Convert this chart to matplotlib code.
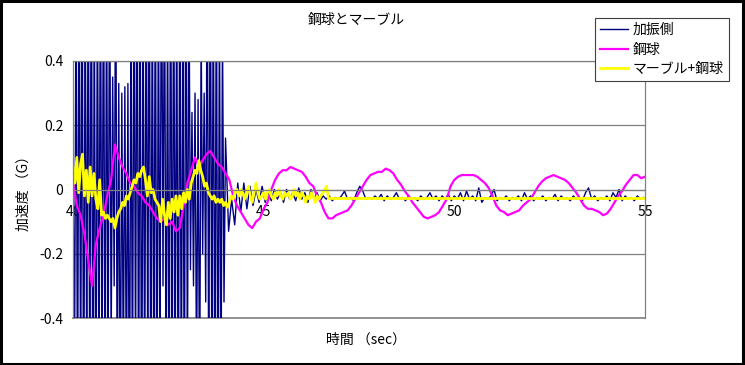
import numpy as np
import matplotlib.pyplot as plt
from matplotlib.patches import Rectangle

plt.rcParams['font.family'] = ['Noto Sans CJK JP', 'DejaVu Sans']

title = "鋼球とマーブル"
series_names = ["加振側", "鋼球", "マーブル+鋼球"]
x_label = "時間 （sec）"
y_label = "加速度 （G）"

x_ticks = [40, 45, 50, 55]
y_ticks = [-0.4, -0.2, 0, 0.2, 0.4]
y_ticklabels = ["-0.4", "-0.2", "0", "0.2", "0.4"]

# 加振側: dense part sampled every 0.04 s from 40 s, quiet part every 0.08 s from 44 s
blue_fast = [0.15, -0.6, 0.7, -0.8, 0.9, -0.7, 0.8, -0.9, 0.7, -0.6,
             0.8, -0.7, 0.9, -0.8, 0.6, -0.9, 0.7, -0.6, 0.8, -0.7,
             0.9, -0.8, 0.7, -0.6, 0.8, -0.5, 0.35, -0.3, 0.8, -0.7,
             0.33, -0.8, 0.3, -0.6, 0.32, -0.7, 0.33, -0.9, 0.6, -0.7,
             0.8, -0.6, 0.9, -0.8, 0.7, -0.9, 0.6, -0.7, 0.8, -0.6,
             0.9, -0.8, 0.7, -0.7, 0.8, -0.9, 0.7, -0.6, 0.9, -0.3,
             0.8, -0.7, 0.6, -0.8, 0.9, -0.7, 0.8, -0.6, 0.7, -0.9,
             0.8, -0.7, 0.6, -0.8, 0.9, -0.6, 0.7, -0.25, 0.24, -0.3,
             0.30, -0.6, 0.28, -0.7, 0.5, -0.2, 0.3, -0.35, 0.8, -0.7,
             0.9, -0.6, 0.7, -0.8, 0.8, -0.9, 0.6, -0.7, 0.5, -0.35]
blue_slow = [0.16, -0.13, -0.03, -0.11, 0.02, -0.07, 0.02, -0.06, 0.01, -0.05,
             0.0, -0.04, 0.01, -0.04, -0.01, -0.035, 0.0, -0.03, -0.01, -0.04,
             0.0, -0.03, -0.01, -0.035, 0.005, -0.03, -0.01, -0.04, 0.0, -0.03,
             -0.01, -0.035, -0.02, -0.03, -0.02, -0.035, -0.025, -0.03, -0.02, -0.005,
             -0.03, -0.025, -0.035, -0.01, 0.01, -0.005, -0.03, -0.025, -0.03, -0.02,
             -0.03, -0.015, -0.035, -0.02, -0.03, -0.025, -0.01, -0.03, -0.025, -0.035,
             -0.02, -0.03, -0.025, -0.035, -0.02, -0.03, -0.025, -0.01, -0.03, -0.02,
             -0.035, -0.02, -0.03, -0.015, -0.035, -0.02, -0.03, -0.01, -0.035, -0.005,
             -0.03, -0.02, -0.035, 0.005, -0.04, -0.025, -0.03, -0.02, 0.0, -0.035,
             -0.025, -0.03, -0.02, -0.035, -0.025, -0.03, -0.02, -0.035, -0.01, -0.03,
             -0.02, -0.035, -0.025, -0.03, -0.02, -0.035, -0.025, -0.03, -0.015, -0.035,
             -0.02, -0.03, -0.025, -0.035, -0.02, -0.03, -0.025, -0.035, -0.01, 0.005,
             -0.03, -0.02, -0.035, -0.025, -0.03, -0.02, -0.035, -0.01, -0.025, 0.0,
             -0.035, -0.02, -0.03, -0.025, -0.035, -0.02, -0.03, -0.025]

# 鋼球: every 0.1 s from 40 s
magenta = [0.02, -0.05, -0.08, -0.14, -0.22, -0.30, -0.17, -0.12, -0.08, -0.02,
           0.03, 0.14, 0.10, 0.07, 0.05, 0.02, 0.01, -0.01, -0.02, -0.04,
           -0.05, -0.07, -0.09, -0.10, -0.09, -0.11, -0.10, -0.13, -0.12, -0.05,
           0.02, 0.06, 0.10, 0.07, 0.09, 0.11, 0.12, 0.10, 0.08, 0.07,
           0.05, 0.03, -0.02, -0.05, -0.07, -0.09, -0.11, -0.12, -0.10, -0.09,
           -0.06, -0.04, 0.00, 0.03, 0.05, 0.06, 0.06, 0.07, 0.065, 0.06,
           0.055, 0.04, 0.02, 0.01, -0.02, -0.04, -0.07, -0.09, -0.09, -0.08,
           -0.075, -0.07, -0.065, -0.05, -0.03, -0.01, 0.01, 0.03, 0.045, 0.05,
           0.055, 0.055, 0.065, 0.06, 0.05, 0.03, 0.015, -0.005, -0.02, -0.04,
           -0.055, -0.07, -0.085, -0.09, -0.085, -0.08, -0.07, -0.05, -0.03, 0.01,
           0.03, 0.04, 0.045, 0.045, 0.045, 0.045, 0.04, 0.03, 0.02, 0.005,
           -0.02, -0.05, -0.065, -0.07, -0.08, -0.075, -0.07, -0.065, -0.05, -0.04,
           -0.03, -0.01, 0.01, 0.025, 0.035, 0.04, 0.045, 0.04, 0.035, 0.03,
           0.02, 0.005, -0.01, -0.03, -0.05, -0.06, -0.06, -0.065, -0.07, -0.08,
           -0.075, -0.06, -0.04, -0.02, -0.005, 0.015, 0.03, 0.045, 0.045, 0.035,
           0.04]

# マーブル+鋼球: every 0.05 s from 40 s, then flat
yellow = [0.07, 0.02, 0.10, -0.01, 0.08, 0.11, -0.02, 0.06, -0.04, 0.07,
          -0.02, 0.05, -0.03, -0.06, 0.03, -0.08, -0.07, -0.09, -0.08, -0.09,
          -0.10, -0.09, -0.12, -0.09, -0.07, -0.06, -0.04, -0.05, -0.02, -0.03,
          -0.01, 0.01, 0.03, 0.02, 0.05, 0.04, 0.06, 0.07, 0.03, -0.02,
          0.04, -0.01, 0.0, -0.03, -0.04, -0.05, -0.10, -0.03, -0.08, -0.11,
          -0.04, -0.09, -0.03, -0.07, -0.02, -0.08, -0.02, -0.06, -0.01, -0.04,
          0.0, -0.03, 0.02, 0.04, 0.06, 0.05, 0.09, 0.06, 0.04, 0.01,
          0.02, -0.01, -0.02, -0.03, -0.02, -0.04, -0.03, -0.04, -0.03, -0.05,
          -0.04, -0.055, -0.04, -0.02, -0.03, -0.01, 0.0, -0.02, 0.0, -0.01,
          -0.03, -0.01, 0.01, -0.02, -0.04, -0.01, 0.02, -0.01, -0.03, -0.02,
          -0.01, -0.03, -0.01, 0.0, -0.02, -0.03, -0.01, -0.02, 0.0, -0.02,
          -0.03, -0.01, -0.02, -0.01, -0.03, -0.02, 0.0, -0.02, -0.01, -0.03,
          -0.01, -0.02, -0.04, -0.02, -0.03, -0.01, -0.02, -0.04, -0.02, -0.03,
          -0.02, -0.01, 0.0, 0.01]
yellow_flat_t = [46.7, 55.0]
yellow_flat = [-0.028, -0.028]

blue_t = np.concatenate([40 + 0.04 * np.arange(len(blue_fast)),
                         44 + 0.08 * np.arange(len(blue_slow))])
blue = np.concatenate([blue_fast, blue_slow])
magenta_t = 40 + 0.1 * np.arange(len(magenta))
yellow_t = np.concatenate([40 + 0.05 * np.arange(len(yellow)), yellow_flat_t])
yellow_all = np.concatenate([yellow, yellow_flat])

fig = plt.figure(figsize=(7.45, 3.65), dpi=100)
ax = fig.add_axes([73 / 745, 47 / 365, 572 / 745, 257 / 365])

ax.plot(blue_t, blue, color="#000080", lw=1.0, label=series_names[0])
ax.plot(magenta_t, magenta, color="#FF00FF", lw=1.6, label=series_names[1])
ax.plot(yellow_t, yellow_all, color="#FFFF00", lw=2.0, label=series_names[2])

ax.set_xlim(40, 55)
ax.set_ylim(-0.4, 0.4)
ax.set_xticks(x_ticks)
ax.set_yticks(y_ticks, y_ticklabels)
ax.tick_params(length=0, labelsize=10)
ax.tick_params(axis="y", pad=7)
ax.tick_params(axis="x", pad=11)
ax.yaxis.grid(True, color="#808080", lw=0.9)
ax.set_axisbelow(True)

for s in ax.spines.values():
    s.set_color("#808080")
    s.set_linewidth(0.9)
ax.spines["bottom"].set_position(("data", 0))
ax.axhline(-0.4, color="#808080", lw=1.2, clip_on=False, zorder=0.5)

fig.text(356 / 745, 1 - 20 / 365, title, ha="center", va="center", fontsize=10)
fig.text(366 / 745, 1 - 340 / 365, x_label, ha="center", va="center", fontsize=10)
fig.text(24 / 745, 1 - 190 / 365, y_label, ha="center", va="center",
         rotation=90, fontsize=10)

leg = fig.legend(loc="upper left", bbox_to_anchor=(595 / 745, 1 - 18 / 365),
                 fontsize=10, frameon=True, fancybox=False, framealpha=1,
                 edgecolor="#404040", handlelength=2.0, handletextpad=0.3,
                 labelspacing=0.38, borderpad=0.38, borderaxespad=0)
leg.get_frame().set_linewidth(0.8)

fig.patches.append(Rectangle((0.002, 0.003), 0.995, 0.993, transform=fig.transFigure,
                             fill=False, edgecolor="black", lw=2.2))

fig.savefig("out.png", dpi=100)
